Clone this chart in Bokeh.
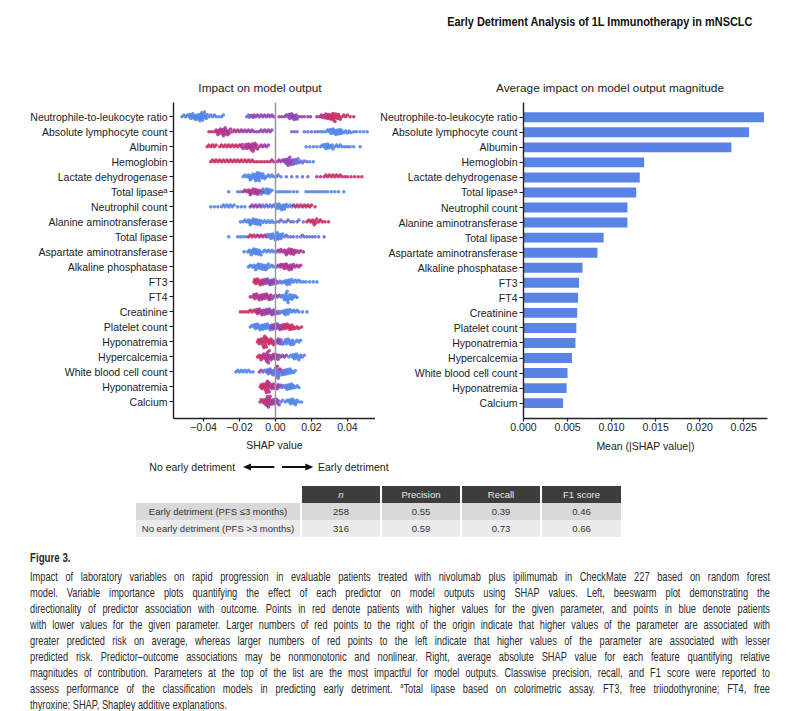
import numpy as np
from bokeh.plotting import figure
from bokeh.models import (FixedTicker, CustomJSTickFormatter, Span, Div, Range1d, ColumnDataSource)
from bokeh.layouts import column, row
from bokeh.embed import file_html
from bokeh.resources import INLINE

# ---------------- data ----------------
features = ["Neutrophile-to-leukocyte ratio", "Absolute lymphocyte count", "Albumin",
            "Hemoglobin", "Lactate dehydrogenase", "Total lipase\u1d43", "Neutrophil count",
            "Alanine aminotransferase", "Total lipase", "Aspartate aminotransferase",
            "Alkaline phosphatase", "FT3", "FT4", "Creatinine", "Platelet count",
            "Hyponatremia", "Hypercalcemia", "White blood cell count", "Hyponatremia", "Calcium"]

mean_abs_shap = [0.0273, 0.0256, 0.0236, 0.0137, 0.0132, 0.0128, 0.0118, 0.0118, 0.0091,
                 0.0084, 0.0067, 0.0063, 0.0062, 0.0061, 0.0060, 0.0059, 0.0055, 0.0050,
                 0.0049, 0.0045]

# beeswarm: SHAP values (x 1e-3), grouped by feature-value level (0 = low/blue ... 4 = high/red)
swarm_nlr = [
    (0, [-52, -51, -50, -49, -48, -47.5, -47, -46.5, -46, -45.5, -45, -44.5, -44, -43.5, -43, -42.5,
         -42, -42, -41.5, -41, -41, -40.5, -40, -40, -39.5, -39, -38.5, -38, -37, -36, -35, -34, -33,
         -31.5, -30, -29]),
    (1, [-16, -15, -14.5]),
    (2, [-13.5, -12.5, -12, -11, -10, -9, -8, -7, -6, -5, -4, -3, -2, -1]),
    (2, [2, 3.5, 5, 6, 7, 7.5, 8, 8.5, 9, 9.5, 10, 10.5, 11, 11.5, 12, 13, 14.5, 16, 18, 19.5]),
    (3, [23, 24.5, 25.5, 26, 27, 27.5]),
    (4, [28, 28.5, 29, 29.5, 30, 30.5, 31, 31.5, 32, 32, 32.5, 33, 33, 33.5, 34, 34.5, 35, 35.5, 36,
         37, 38, 39, 40, 41.5, 43.5]),
]
swarm_alc = [
    (4, [-37, -35.5, -34, -33]),
    (3, [-32.5, -32, -31.5, -31, -30.5, -30, -29.5, -29, -29, -28.5, -28, -28, -27.5, -27, -26.5, -26,
         -25.5, -25, -24, -23, -22, -21, -20, -19]),
    (2, [-18, -17, -16, -15, -14, -13, -12, -10.5, -9, -8, -7, -6, -5, -4, -3, -2]),
    (1, [9, 10.5, 12, 16, 18, 20, 22, 23.5]),
    (0, [25, 26.5, 28, 29, 30, 30.5, 31, 31.5, 32, 32.5, 33, 33.5, 34, 34.5, 35, 35.5, 36, 36.5, 37,
         38, 39, 40, 41, 42, 43.5, 45, 47, 49, 51]),
]
swarm_alb = [
    (4, [-38, -37, -36, -35, -34, -33, -31, -30, -29, -28, -27, -26, -25, -24, -23, -22, -21]),
    (3, [-20, -19, -18.5, -18, -17, -16.5, -16, -15.5, -15, -14.5, -14, -13.5, -13, -13, -12.5, -12,
         -12, -11.5, -11, -10.5, -10, -9, -8, -7]),
    (2, [-6, -5, -4]),
    (0, [17, 19, 21, 23, 25, 26, 27, 27.5, 28, 28.5, 29, 29.5, 30, 31, 31.5, 32, 33, 34, 35, 36, 37,
         38.5, 40, 41.5, 43.5, 47]),
]
swarm_hgb = [
    (4, [-36, -35, -34, -33, -32, -31, -30, -29, -28, -27, -26, -25, -24, -23, -22, -21, -20, -19,
         -18, -17, -16, -15, -14, -13, -12, -10.5, -9, -7.5, -6, -4.5, -3]),
    (3, [-2, -1, 1, 2]),
    (2, [3, 4, 5, 5.5, 6, 6.5, 7, 7, 7.5, 8, 8, 8.5, 9, 9.5, 10]),
    (1, [10.5, 11, 11.5, 12, 12.5, 13, 14, 15, 16, 17.5]),
    (0, [19, 21]),
]
swarm_ldh = [
    (0, [-18, -17, -16, -15, -14.5, -14, -13.5, -13, -12.5, -12, -11.5, -11, -11, -10.5, -10, -10,
         -9.5, -9, -9, -8.5, -8, -7.5, -7, -6.5, -6, -5, -4, -3, -2, -1]),
    (1, [0.5, 1.5, 3, 6, 9, 12, 15, 18]),
    (3, [23, 25, 27]),
    (4, [28, 29, 30, 31, 32, 33, 34, 35, 36, 37, 38.5, 40, 42, 44, 46, 48]),
]
swarm_tla = [
    (0, [-26, -21, -19.5]),
    (3, [-18, -17, -16, -15, -14.5, -14, -13.5, -13, -12.5, -12, -11.5, -11, -10.5, -10, -9.5, -9,
         -8, -7]),
    (0, [-8, -7, -6, -5.5, -5, -4.5, -4, -3.5, -3, -2]),
    (0, [0.5, 2, 3.5, 5, 6.5, 8, 10, 12]),
    (0, [17, 18.5, 20, 21.5, 23, 24.5, 26, 27.5, 29, 31, 33, 35, 38]),
]
swarm_nc = [
    (0, [-36, -34, -32, -30, -29, -28, -27, -26, -25, -24, -23, -21, -19, -17]),
    (2, [-14, -13, -12, -11, -10, -9, -8]),
    (1, [-7, -6, -5, -4, -3, -2, -1]),
    (0, [0, 0.5, 1, 1.5, 2, 2.5, 3, 3.5, 4, 4.5, 5, 5.5, 6, 7, 8, 9]),
    (3, [10, 11, 12, 13]),
    (4, [14, 15, 16, 17, 18, 19, 20, 22]),
]
swarm_alt = [
    (0, [-19.5, -18, -17, -16, -15, -14.5, -14, -13.5, -13, -12.5, -12, -11.5, -11, -10.5, -10, -9.5,
         -9, -8.5, -8, -7, -6, -5, -4, -3, -2, -1]),
    (1, [0.5, 2, 3, 4.5, 6, 7, 8.5, 10, 12, 13, 15.5]),
    (4, [17.5, 18.5, 19.5, 20.5, 21, 21.5, 22, 22.5, 23, 24, 25, 26, 27.5, 29.5]),
]
swarm_tl = [
    (0, [-26, -21, -19.5, -18, -16.5]),
    (4, [-15, -14, -13, -12]),
    (3, [-11, -10, -9, -8, -7, -6, -5]),
    (0, [-4.5, -3.5, -3, -2.5, -2, -1.5, -1, -0.5, 0, 0.5, 1, 1, 1.5, 2, 2.5, 3, 3.5, 4, 5]),
    (1, [6, 7, 8.5, 10, 12, 14, 15, 16, 17.5, 19, 20.5, 22, 24, 27]),
]
swarm_ast = [
    (0, [-17.5, -15.5, -14.5, -14, -13.5, -13, -12.5, -12, -11.5, -11, -10.5, -10, -9.5, -9, -8.5,
         -8, -7, -6, -5, -4, -3, -2, -1]),
    (2, [0.5, 1.5, 2.5]),
    (3, [3, 4, 5, 5.5, 6, 6.5, 7, 7.5, 8, 8.5, 9, 9.5, 10, 10.5, 11, 12, 13, 14, 15.5]),
]
swarm_alp = [
    (0, [-15, -14, -13, -12, -11.5, -11, -10.5, -10, -9.5, -9, -8.5, -8, -7.5, -7, -6.5, -6, -5.5,
         -5, -4.5, -4, -3, -2, -1]),
    (2, [0.5, 1.5, 2.5]),
    (3, [3, 4, 4.5, 5, 5.5, 6, 6.5, 7, 7.5, 8, 8.5, 9, 9.5, 10, 11, 12, 13, 14]),
]
swarm_ft3 = [
    (4, [-12, -11.5, -11, -10.5, -10, -9.5, -9, -8.5, -8, -7.5, -7]),
    (2, [-6.5, -6, -5.5, -5, -4.5, -4, -3.5, -3, -2.5, -2, -1.5, -1, -0.5, 0, 0.5]),
    (1, [1.5, 2.5, 3.5]),
    (0, [4.5, 5.5, 6, 6.5, 7, 7.5, 8, 8.5, 9, 10, 11, 12, 13, 14, 15.5, 17, 19, 21, 23]),
]
swarm_ft4 = [
    (3, [-14, -12.5, -12, -11.5, -11, -10.5, -10, -9.5, -9, -8.5, -8, -7.5, -7, -6.5, -6, -5.5, -5,
         -4.5, -4, -3.5, -3]),
    (2, [-2.5, -2, -1, 0, 1, 2]),
    (0, [3, 4, 4.5, 5, 5.5, 6, 6, 6.5, 6.5, 7, 7, 7.5, 8, 8.5, 9, 9.5, 10, 11, 12]),
]
swarm_cre = [
    (4, [-19.5, -18, -16.5, -15, -14, -13, -12]),
    (3, [-11, -10.5, -10, -9.5, -9, -8.5, -8, -7.5, -7, -6.5, -6]),
    (2, [-5.5, -5, -4.5, -4, -3.5, -3, -2.5, -2, -1.5, -1, -0.5, 0, 1]),
    (1, [1.5, 2.5, 3.5]),
    (0, [4.5, 5, 5.5, 6, 6.5, 7, 7.5, 8, 9, 10, 11, 12, 13, 15, 17.5]),
]
swarm_plt = [
    (0, [-14, -13, -12, -11.5, -11, -10.5, -10, -9.5, -9, -8.5, -8, -7.5, -7, -6.5, -6, -5.5, -5,
         -4.5, -4, -3.5, -3]),
    (2, [-2.5, -2, -1.5, -1, -0.5, 0, 0.5, 1, 1.5, 2, 2.5, 3, 3.5]),
    (4, [4, 4.5, 5, 5.5, 6, 6.5, 7, 7.5, 8, 8.5, 9, 9.5, 10, 11, 12, 13, 14.5]),
]
swarm_hna = [
    (4, [-10, -9.5, -9, -8.5, -8, -7.5, -7, -7, -6.5, -6.5, -6, -6, -5.5, -5.5, -5, -5, -4.5, -4,
         -3.5, -3, -2.5, -2, -1.5, -1]),
    (2, [-0.5, 0.5, 1, 1.5, 2, 2.5, 3]),
    (1, [3.5, 4, 5]),
    (0, [5.5, 6, 6.5, 7, 7.5, 8, 8.5, 9, 9.5, 10, 11, 12, 13, 14]),
]
swarm_hca = [
    (4, [-10, -9, -8.5, -8, -7.5]),
    (3, [-7, -6.5, -6, -5.5, -5, -5, -4.5, -4.5, -4, -4, -3.5, -3.5, -3, -2.5, -2, -1.5, -1, -0.5]),
    (2, [0, 0.5, 1, 1.5, 2, 3, 4, 5, 6]),
    (0, [7.5, 8.5, 9.5, 10, 10.5, 11, 11.5, 12, 12.5, 13, 13.5, 14, 15, 16]),
]
swarm_wbc = [
    (0, [-22, -21, -20, -19, -18, -17, -16, -15, -14, -12.5]),
    (2, [-9, -8]),
    (1, [-7, -6, -5, -4.5, -4, -3.5, -3]),
    (1, [-2.5, -2, -1.5, -1, -0.5, 0, 0, 0.5, 0.5, 1, 1.5, 1.5, 2, 2, 3, 3.5, 4, 4.5, 5]),
    (4, [1, 2.5]),
    (0, [5.5, 6, 6.5, 7, 7.5, 8, 8.5, 9, 10, 11]),
]
swarm_hna2 = [
    (4, [-8.5, -8, -7.5, -7, -6.5, -6, -5.5, -5.5, -5, -5, -4.5, -4.5, -4]),
    (3, [-4, -3.5, -3.5, -3, -2.5, -2, -1.5, -1]),
    (2, [-0.5, 0.5, 1, 1.5, 2, 3]),
    (1, [3.5, 4.5, 5.5]),
    (0, [6, 6.5, 7, 7.5, 8, 8.5, 9, 9.5, 10, 11, 12, 13]),
]
swarm_ca = [
    (4, [-8.5, -8, -7, -6.5]),
    (3, [-6, -5.5, -5, -5, -4.5, -4.5, -4, -4, -3.5, -3.5, -3, -3, -2.5, -2, -1.5]),
    (2, [-1, -0.5, 0, 0.5, 1, 1.5, 2]),
    (0, [3, 4, 5.5, 6.5, 7.5, 8, 8.5, 9, 9.5, 10, 10.5, 11, 11.5, 12, 13, 14.5]),
]
swarms = [swarm_nlr, swarm_alc, swarm_alb, swarm_hgb, swarm_ldh, swarm_tla, swarm_nc, swarm_alt,
          swarm_tl, swarm_ast, swarm_alp, swarm_ft3, swarm_ft4, swarm_cre, swarm_plt, swarm_hna,
          swarm_hca, swarm_wbc, swarm_hna2, swarm_ca]

table_cols = ["n", "Precision", "Recall", "F1 score"]
table_rows = ["Early detriment (PFS \u22643 months)", "No early detriment (PFS >3 months)"]
table_vals = [["258", "0.55", "0.39", "0.46"], ["316", "0.59", "0.73", "0.66"]]

# ---------------- styling ----------------
FONT = "Liberation Sans"
CSSFONT = "'Liberation Sans', Arial, sans-serif"
LEVEL_COLORS = ["#4a7fe6", "#6168d8", "#8a38b2", "#ab2a8a", "#c7245e"]
BAR_COLOR = "#5a83e6"
N = len(features)
ypos = [N - 1 - i for i in range(N)]

# ---- beeswarm layout (vertical offsets from non-overlap packing) ----
L_X0, L_X1 = -0.0567, 0.0556   # left panel SHAP range
L_FRAME_W = 202                # px
L_PX_PER_UNIT = L_FRAME_W / (L_X1 - L_X0)
L_ROW_PX = 15.44
DOT_D = 2.5
CAP_PX = 6.5


def swarm_offsets(xpx, d):
    order = np.argsort(xpx, kind="stable")
    px_l, py_l = [], []
    offs = np.zeros(len(xpx))
    for i in order:
        x = xpx[i]
        near = [(px, py) for px, py in zip(px_l, py_l) if abs(px - x) < d]
        cands = [0.0]
        for px, py in near:
            h = np.sqrt(d * d - (px - x) ** 2)
            cands += [py + h, py - h]
        cands.sort(key=abs)
        for c in cands:
            if all((px - x) ** 2 + (py - c) ** 2 >= d * d - 1e-9 for px, py in near):
                offs[i] = c
                break
        px_l.append(x)
        py_l.append(offs[i])
    return offs


xs, ys, cs = [], [], []
for r, groups in enumerate(swarms):
    vals, levs = [], []
    for lev, arr in groups:
        vals += [v / 1000.0 for v in arr]
        levs += [lev] * len(arr)
    vals = np.array(vals)
    offs = swarm_offsets(vals * L_PX_PER_UNIT, DOT_D)
    m = np.abs(offs).max()
    if m > CAP_PX:
        offs = offs * CAP_PX / m
    xs += list(vals)
    ys += list(ypos[r] + offs / L_ROW_PX)
    cs += [LEVEL_COLORS[l] for l in levs]

src = ColumnDataSource(dict(x=xs, y=ys, c=cs))
label_map = {ypos[i]: features[i] for i in range(N)}


def style_axes(p):
    for ax in (p.xaxis[0], p.yaxis[0]):
        ax.axis_line_color = "#222222"
        ax.axis_line_width = 1.4
        ax.major_tick_line_color = "#222222"
        ax.major_tick_line_width = 1.2
        ax.minor_tick_line_color = None
        ax.major_tick_in = 0
        ax.major_label_text_font = FONT
        ax.major_label_text_font_size = "10.5px"
        ax.major_label_text_color = "#222222"
        ax.axis_label_text_font = FONT
        ax.axis_label_text_font_size = "10.5px"
        ax.axis_label_text_font_style = "normal"
        ax.axis_label_text_color = "#222222"
    p.yaxis.ticker = FixedTicker(ticks=ypos)
    p.yaxis.major_label_overrides = label_map
    p.yaxis.major_tick_out = 4
    p.yaxis.major_label_standoff = 2
    p.xaxis.major_tick_out = 3
    p.xaxis.major_label_standoff = 1
    p.xgrid.visible = False
    p.ygrid.visible = False
    p.outline_line_color = None
    p.background_fill_color = "white"
    p.border_fill_color = "white"


# ---------------- left: beeswarm ----------------
p1 = figure(width=375, height=363, x_range=Range1d(L_X0, L_X1), y_range=Range1d(-1.10, 19.95),
            output_backend="svg", toolbar_location=None, min_border_left=173, min_border_right=0,
            min_border_top=2, min_border_bottom=36)
style_axes(p1)
p1.xaxis.ticker = FixedTicker(ticks=[-0.04, -0.02, 0.0, 0.02, 0.04])
p1.xaxis.formatter = CustomJSTickFormatter(
    code="return (tick < -1e-9 ? '\\u2212' : '') + Math.abs(tick).toFixed(2);")
p1.xaxis.axis_label = "SHAP value"
p1.xaxis.axis_label_standoff = 5
p1.scatter("x", "y", source=src, size=3.6, fill_color="c", line_color=None, fill_alpha=0.85)
p1.add_layout(Span(location=0, dimension="height", line_color="#9a9a9a", line_width=1.5))

# ---------------- right: bar chart ----------------
p2 = figure(width=425, height=363, x_range=Range1d(0, 0.0277), y_range=Range1d(-1.02, 19.98),
            output_backend="svg", toolbar_location=None, min_border_left=148, min_border_right=33,
            min_border_top=7, min_border_bottom=40)
style_axes(p2)
p2.xaxis.ticker = FixedTicker(ticks=[0, 0.005, 0.010, 0.015, 0.020, 0.025])
p2.xaxis.formatter = CustomJSTickFormatter(code="return tick.toFixed(3);")
p2.xaxis.axis_label = "Mean (|SHAP value|)"
p2.xaxis.axis_label_standoff = 6
p2.hbar(y=ypos, right=mean_abs_shap, left=0, height=0.66, fill_color=BAR_COLOR, line_color=None)

# ---------------- header (page title + panel titles) ----------------
header_html = (
    '<div style="position:relative;width:800px;height:95px;overflow:hidden;">'
    '<div style="position:absolute;right:48px;top:14px;line-height:16px;white-space:nowrap;'
    'font-family:' + CSSFONT + ';font-weight:700;font-size:13px;color:#111;'
    'transform:scaleX(0.84);transform-origin:100% 50%;">'
    'Early Detriment Analysis of 1L Immunotherapy in mNSCLC</div>'
    '<div style="position:absolute;left:260px;top:81px;line-height:14px;white-space:nowrap;'
    'transform:translateX(-50%);font-family:' + CSSFONT + ';font-size:11.8px;color:#222;">'
    'Impact on model output</div>'
    '<div style="position:absolute;left:610px;top:81px;line-height:14px;white-space:nowrap;'
    'transform:translateX(-50%);font-family:' + CSSFONT + ';font-size:11.8px;color:#222;">'
    'Average impact on model output magnitude</div>'
    '</div>')
header_div = Div(text=header_html, width=800, height=95, margin=0)

# ---------------- direction legend under the beeswarm ----------------
# arrow ends placed on the left panel's SHAP scale (page x = frame left + offset)
def shap_to_page_x(v):
    return 173 + (v - L_X0) * L_PX_PER_UNIT


ax0, ax_l, ax_r0, ax_r1 = (shap_to_page_x(v) for v in (-0.0004, -0.0178, 0.0039, 0.0213))
tx_l, tx_r = shap_to_page_x(-0.0222), shap_to_page_x(0.0239)
AY = 9
legend_svg = (
    '<svg width="800" height="27" xmlns="http://www.w3.org/2000/svg" style="display:block">'
    '<line x1="%.1f" y1="%d" x2="%.1f" y2="%d" stroke="#111" stroke-width="2"/>'
    '<polygon points="%.1f,%d %.1f,%.1f %.1f,%.1f" fill="#111"/>'
    '<line x1="%.1f" y1="%d" x2="%.1f" y2="%d" stroke="#111" stroke-width="2"/>'
    '<polygon points="%.1f,%d %.1f,%.1f %.1f,%.1f" fill="#111"/>'
    '<text x="%.1f" y="%d" text-anchor="end" dominant-baseline="central" '
    'font-family="Liberation Sans" font-size="10.5" fill="#222">No early detriment</text>'
    '<text x="%.1f" y="%d" text-anchor="start" dominant-baseline="central" '
    'font-family="Liberation Sans" font-size="10.5" fill="#222">Early detriment</text>'
    '</svg>'
) % (ax0, AY, ax_l + 6, AY,
     ax_l, AY, ax_l + 8, AY - 3.6, ax_l + 8, AY + 3.6,
     ax_r0, AY, ax_r1 - 6, AY,
     ax_r1, AY, ax_r1 - 8, AY - 3.6, ax_r1 - 8, AY + 3.6,
     tx_l, AY, tx_r, AY)
legend_div = Div(text=legend_svg, width=800, height=27, margin=0)

# ---------------- table ----------------
cell = "height:17px;padding:0;text-align:center;vertical-align:middle;"
html = ('<table style="margin:1px 0 0 136px;border-collapse:collapse;table-layout:fixed;'
        'font-family:' + CSSFONT + ';font-size:9.5px;color:#333;">')
html += '<tr><td style="' + cell + 'width:165px;background:#fff;"></td>'
for c in table_cols:
    sty = "font-style:italic;" if c == "n" else ""
    html += ('<td style="' + cell + 'width:80px;background:#3d3d3d;color:#e8e8e8;'
             'border-left:2px solid #fff;' + sty + '">' + c + '</td>')
html += '</tr>'
for i, rl in enumerate(table_rows):
    bg = "#d9d9d9" if i == 0 else "#ececec"
    html += '<tr><td style="' + cell + 'background:' + bg + ';">' + rl + '</td>'
    for v in table_vals[i]:
        html += ('<td style="' + cell + 'background:' + bg + ';border-left:2px solid #fff;">'
                 + v + '</td>')
    html += '</tr>'
html += '</table>'
table_div = Div(text=html, width=800, height=60, margin=0)

# ---------------- caption ----------------
caption_lines = [
    "Impact of laboratory variables on rapid progression in evaluable patients treated with nivolumab plus ipilimumab in CheckMate 227 based on random forest",
    "model. Variable importance plots quantifying the effect of each predictor on model outputs using SHAP values. Left, beeswarm plot demonstrating the",
    "directionality of predictor association with outcome. Points in red denote patients with higher values for the given parameter, and points in blue denote patients",
    "with lower values for the given parameter. Larger numbers of red points to the right of the origin indicate that higher values of the parameter are associated with",
    "greater predicted risk on average, whereas larger numbers of red points to the left indicate that higher values of the parameter are associated with lesser",
    "predicted risk. Predictor\u2013outcome associations may be nonmonotonic and nonlinear. Right, average absolute SHAP value for each feature quantifying relative",
    "magnitudes of contribution. Parameters at the top of the list are the most impactful for model outputs. Classwise precision, recall, and F1 score were reported to",
    "assess performance of the classification models in predicting early detriment. <sup style=\"font-size:7.5px;line-height:0\">a</sup>Total lipase based on colorimetric assay. FT3, free triiodothyronine; FT4, free",
    "thyroxine; SHAP, Shapley additive explanations.",
]
SX = 0.76
LINE_W = 740 / SX
cap = ('<div style="width:800px;height:166px;overflow:hidden;box-sizing:border-box;'
       'padding:5px 0 0 30px;font-family:' + CSSFONT + ';color:#2a2a2a;">')
cap += ('<div style="font-weight:700;font-size:12.8px;line-height:16px;height:16px;margin-bottom:3px;'
        'transform:scaleX(' + str(SX) + ');transform-origin:0 50%;white-space:nowrap;">Figure 3.</div>')
for k, ln in enumerate(caption_lines):
    al = "left" if k == len(caption_lines) - 1 else "justify"
    cap += ('<div style="width:' + ('%.1f' % LINE_W) + 'px;font-size:12.2px;line-height:16px;height:16px;'
            'text-align:' + al + ';text-align-last:' + al + ';transform:scaleX(' + str(SX) + ');'
            'transform-origin:0 50%;">' + ln + '</div>')
cap += '</div>'
caption_div = Div(text=cap, width=800, height=166, margin=0)

layout = column(header_div, row(p1, p2, spacing=0), legend_div, table_div, caption_div, spacing=0)

open("out.html", "w").write(file_html(layout, INLINE))
